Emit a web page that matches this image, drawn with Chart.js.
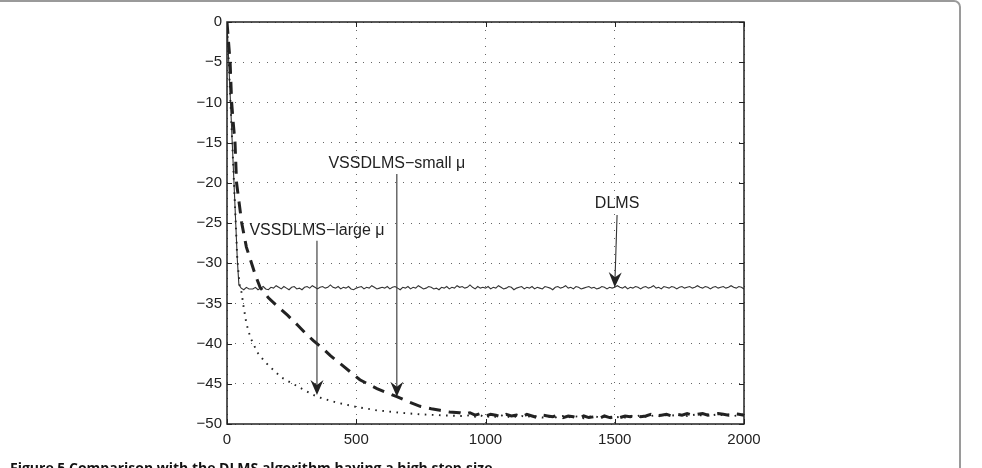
<!DOCTYPE html>
<html>
<head>
<meta charset="utf-8">
<script src="https://cdn.jsdelivr.net/npm/chart.js@4.4.1/dist/chart.umd.min.js"></script>
<style>
html,body{margin:0;padding:0;background:#fff;overflow:hidden;}
#wrap{position:relative;width:982px;height:468px;overflow:hidden;}
#frame{position:absolute;left:-20px;top:0px;width:981px;height:600px;border:2px solid #9a9a9a;border-radius:7px;box-sizing:border-box;}
#chart{position:absolute;left:0;top:0;}
#cap{position:absolute;left:10px;top:460px;font-family:"Open Sans",sans-serif;font-weight:bold;font-size:14px;line-height:16px;color:#111;white-space:nowrap;}
</style>
</head>
<body>
<div id="wrap">
<div id="frame"></div>
<canvas id="chart" width="982" height="468"></canvas>
<div id="cap">Figure 5 Comparison with the DLMS algorithm having a high step-size</div>
</div>
<script>
// ---------- data ----------
const xTicks = [0, 500, 1000, 1500, 2000];
const yTicks = [0, -5, -10, -15, -20, -25, -30, -35, -40, -45, -50];

// DLMS (solid)
const dlmsHeadIter = [0, 10, 20, 30, 40, 46, 55, 65, 75, 85];
const dlmsHeadVal  = [0, -7.4, -14.8, -22.2, -29.6, -32.7, -33.1, -33.3, -33.0, -33.2];
const dlmsTailStart = 100, dlmsTailStep = 10;
const dlmsTailVal = [
 -33.2,-33.0,-33.3,-33.1,-32.9,-33.2,-33.3,-33.0,-33.1,-32.8,
 -33.0,-33.2,-32.9,-33.1,-33.3,-33.0,-32.9,-33.2,-33.1,-33.3,
 -33.0,-32.9,-33.1,-32.8,-33.0,-33.2,-33.0,-32.9,-33.1,-33.0,
 -32.7,-33.0,-33.1,-32.9,-33.2,-33.0,-33.1,-32.9,-33.2,-33.3,
 -33.1,-33.0,-32.9,-33.2,-33.0,-33.1,-32.8,-33.0,-33.2,-33.1,
 -33.0,-33.1,-32.9,-33.2,-33.0,-32.9,-33.1,-33.3,-33.0,-33.1,
 -32.9,-33.2,-33.0,-33.1,-32.8,-33.0,-33.2,-33.1,-32.9,-33.0,
 -33.2,-33.1,-33.3,-33.0,-33.1,-32.9,-33.2,-33.0,-33.1,-32.8,
 -33.0,-32.9,-33.1,-33.0,-32.7,-33.0,-33.2,-32.9,-33.1,-33.0,
 -33.1,-32.9,-33.2,-33.0,-33.1,-32.8,-33.0,-33.2,-33.1,-32.9,
 -33.0,-33.3,-33.1,-33.0,-32.9,-33.2,-33.0,-33.1,-32.9,-33.2,
 -33.0,-33.1,-33.2,-32.9,-33.0,-33.1,-33.3,-33.0,-32.9,-33.1,
 -33.0,-32.8,-33.1,-33.0,-33.2,-32.9,-33.0,-33.2,-33.1,-33.0,
 -32.9,-33.1,-33.0,-33.2,-33.1,-32.9,-33.0,-33.2,-33.0,-33.1,
 -33.0,-32.8,-33.0,-33.1,-32.9,-33.2,-33.0,-33.1,-32.9,-33.0,
 -33.2,-33.0,-32.9,-33.1,-33.0,-32.8,-33.1,-33.0,-33.2,-32.9,
 -33.0,-33.1,-32.9,-33.0,-33.2,-33.0,-32.9,-33.1,-33.0,-32.9,
 -33.1,-33.0,-32.8,-33.0,-33.1,-32.9,-33.0,-33.2,-33.0,-32.9,
 -33.1,-33.0,-32.9,-33.1,-33.0,-32.8,-33.0,-33.1,-32.9,-33.0,
 -33.2
];

// VSSDLMS - small mu (dashed)
const smallHeadIter = [0, 6, 12, 18, 24, 31, 37, 47, 57, 75, 95, 110, 128, 160, 200, 235, 270, 300, 333, 370, 400, 450, 514, 580, 657, 700, 747, 790, 824, 860, 900];
const smallHeadVal  = [0, -2.5, -5, -10, -12.5, -15, -20, -22.5, -25, -28, -30, -31.5, -33, -34.3, -35.5, -36.5, -37.6, -38.6, -39.6, -40.6, -41.5, -42.8, -44.5, -45.6, -46.6, -47.2, -47.8, -48.1, -48.3, -48.5, -48.6];
const smallTailStart = 920, smallTailStep = 20;
const smallTailVal = [
 -48.8,-48.6,-48.9,-48.7,-49.0,-48.8,-48.9,-49.1,-48.8,-49.0,
 -48.9,-49.1,-48.8,-49.0,-49.2,-48.9,-49.0,-49.1,-48.9,-49.2,
 -49.0,-49.1,-49.3,-49.0,-49.2,-49.1,-49.3,-49.0,-49.2,-49.1,
 -49.2,-49.0,-49.1,-48.9,-49.1,-49.0,-48.8,-49.0,-48.9,-48.8,
 -49.0,-48.8,-48.9,-48.7,-48.9,-48.8,-48.7,-48.9,-48.8,-48.7,
 -48.8,-48.9,-48.7,-48.8,-48.9
];

// VSSDLMS - large mu (dotted)
const largeHeadIter = [0, 10, 20, 30, 40, 50, 57, 62, 75, 90, 101, 120, 140, 160, 180, 210, 255, 300, 348, 420, 503, 580, 669, 750, 820, 900];
const largeHeadVal  = [0, -7.4, -14.8, -22.2, -29.6, -33.0, -33.7, -35, -37.5, -39.2, -40, -41.2, -42, -42.7, -43.3, -44.2, -45, -45.8, -46.6, -47.3, -47.9, -48.3, -48.6, -48.8, -48.9, -49.0];
const largeTailStart = 920, largeTailStep = 20;
const largeTailVal = [
 -49.0,-48.9,-49.1,-48.9,-49.2,-49.0,-49.1,-48.9,-49.2,-49.0,
 -49.1,-49.0,-49.2,-48.9,-49.1,-49.2,-49.0,-49.3,-49.1,-49.0,
 -49.2,-49.0,-49.1,-49.3,-49.1,-49.0,-49.2,-49.1,-49.3,-49.2,
 -49.1,-49.2,-49.0,-49.1,-48.9,-49.1,-49.0,-48.9,-49.1,-48.9,
 -48.9,-49.0,-48.8,-49.0,-48.9,-48.8,-49.0,-48.8,-48.9,-48.8,
 -48.9,-48.8,-49.0,-48.9,-48.8
];

// annotations (data units)
const annotText  = ["VSSDLMS\u2212small \u03bc", "VSSDLMS\u2212large \u03bc", "DLMS"];
const annotTextX = [657, 348, 1509];
const annotTextY = [-17.6, -26.0, -22.6];
const arrowFromX = [657, 348, 1509];
const arrowFromY = [-18.9, -27.2, -24.0];
const arrowToX   = [657, 348, 1500];
const arrowToY   = [-46.6, -46.4, -33.0];

// ---------- build ----------
function build(headI, headV, tStart, tStep, tailV) {
  const pts = headI.map((x, i) => ({x: x, y: headV[i]}));
  tailV.forEach((v, i) => pts.push({x: tStart + i * tStep, y: v}));
  return pts;
}
const dlmsPts  = build(dlmsHeadIter, dlmsHeadVal, dlmsTailStart, dlmsTailStep, dlmsTailVal);
const smallPts = build(smallHeadIter, smallHeadVal, smallTailStart, smallTailStep, smallTailVal);
const largePts = build(largeHeadIter, largeHeadVal, largeTailStart, largeTailStep, largeTailVal);

const FONT = "'Liberation Sans', Arial, Helvetica, sans-serif";

const boxPlugin = {
  id: 'box',
  afterDatasetsDraw(chart) {
    const {ctx, chartArea: a, scales: {x, y}} = chart;
    ctx.save();
    ctx.strokeStyle = '#222';
    ctx.lineWidth = 1.5;
    ctx.setLineDash([]);
    ctx.strokeRect(a.left, a.top, a.right - a.left, a.bottom - a.top);
    ctx.lineWidth = 1;
    const L = 5;
    xTicks.forEach(v => {
      const px = Math.round(x.getPixelForValue(v)) + 0.5;
      ctx.beginPath();
      ctx.moveTo(px, a.bottom); ctx.lineTo(px, a.bottom - L);
      ctx.moveTo(px, a.top); ctx.lineTo(px, a.top + L);
      ctx.stroke();
    });
    yTicks.forEach(v => {
      const py = Math.round(y.getPixelForValue(v)) + 0.5;
      ctx.beginPath();
      ctx.moveTo(a.left, py); ctx.lineTo(a.left + L, py);
      ctx.moveTo(a.right, py); ctx.lineTo(a.right - L, py);
      ctx.stroke();
    });
    // annotations
    ctx.fillStyle = '#222';
    ctx.font = '16px ' + FONT;
    ctx.textAlign = 'center';
    ctx.textBaseline = 'middle';
    annotText.forEach((t, i) => {
      ctx.fillText(t, x.getPixelForValue(annotTextX[i]), y.getPixelForValue(annotTextY[i]));
      const x0 = x.getPixelForValue(arrowFromX[i]), y0 = y.getPixelForValue(arrowFromY[i]);
      const x1 = x.getPixelForValue(arrowToX[i]),   y1 = y.getPixelForValue(arrowToY[i]);
      const ang = Math.atan2(y1 - y0, x1 - x0);
      ctx.strokeStyle = '#333';
      ctx.lineWidth = 1.1;
      ctx.beginPath();
      ctx.moveTo(x0, y0);
      ctx.lineTo(x1 - 8 * Math.cos(ang), y1 - 8 * Math.sin(ang));
      ctx.stroke();
      ctx.save();
      ctx.translate(x1, y1);
      ctx.rotate(ang);
      ctx.beginPath();
      ctx.moveTo(0, 0);
      ctx.lineTo(-15, -6.5);
      ctx.lineTo(-10, 0);
      ctx.lineTo(-15, 6.5);
      ctx.closePath();
      ctx.fillStyle = '#222';
      ctx.fill();
      ctx.restore();
    });
    ctx.restore();
  }
};

new Chart(document.getElementById('chart'), {
  type: 'line',
  data: {
    datasets: [
      {label: 'VSSDLMS-large mu', data: largePts, borderColor: '#222', borderWidth: 1.9, borderDash: [1.6, 5.5], pointRadius: 0, tension: 0, fill: false},
      {label: 'VSSDLMS-small mu', data: smallPts, borderColor: '#222', borderWidth: 3, borderDash: [12, 8], pointRadius: 0, tension: 0, fill: false},
      {label: 'DLMS', data: dlmsPts, borderColor: '#333', borderWidth: 1.1, pointRadius: 0, tension: 0, fill: false}
    ]
  },
  options: {
    responsive: false,
    animation: false,
    events: [],
    layout: {padding: {left: 177, right: 238, top: 22, bottom: 0}},
    plugins: {legend: {display: false}, tooltip: {enabled: false}},
    scales: {
      x: {
        type: 'linear', min: 0, max: 2000,
        afterBuildTicks(s) { s.ticks = xTicks.map(v => ({value: v})); },
        afterFit(s) { s.height = 44; },
        ticks: {color: '#222', font: {family: FONT, size: 15}, padding: 7, maxRotation: 0,
                callback: v => String(v)},
        grid: {color: '#666', lineWidth: 1, drawTicks: false},
        border: {display: false, dash: [1, 7]}
      },
      y: {
        type: 'linear', min: -50, max: 0,
        afterBuildTicks(s) { s.ticks = yTicks.map(v => ({value: v})); },
        afterFit(s) { s.width = 50; },
        ticks: {color: '#222', font: {family: FONT, size: 15}, padding: 5,
                callback: v => String(v).replace('-', '\u2212')},
        grid: {color: '#666', lineWidth: 1, drawTicks: false},
        border: {display: false, dash: [1, 7]}
      }
    }
  },
  plugins: [boxPlugin]
});
</script>
</body>
</html>
